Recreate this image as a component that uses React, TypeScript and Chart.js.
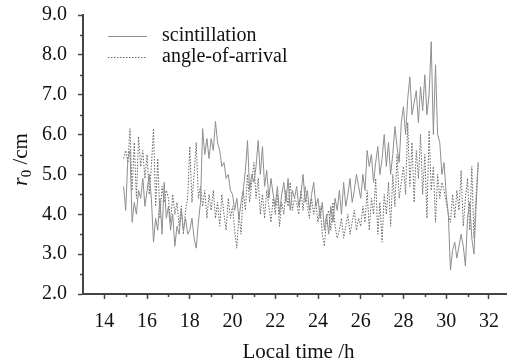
import React, { useEffect, useRef } from "react";
import { Chart, registerables } from "chart.js";

Chart.register(...registerables);

// ---- data ----
const startHour = 14.9;
const stepHour = 0.1;

const scintillation = [
  4.7,
  4.1, 5.4, 5.6, 3.8, 4.3, 4.0, 4.6, 4.4, 4.9, 4.2,
  4.6, 5.0, 4.4, 3.3, 3.9, 3.6, 4.4, 3.5, 4.8, 3.9,
  4.2, 3.6, 4.0, 3.2, 3.7, 3.5, 4.1, 3.6, 3.9, 3.5,
  3.6, 3.9, 3.4, 3.15, 3.8, 4.3, 6.15, 5.5, 5.9, 5.4,
  5.9, 5.6, 6.33, 5.8, 5.6, 5.2, 5.3, 4.9, 5.0, 4.6,
  4.5, 4.1, 4.4, 3.9, 4.3, 4.6, 5.1, 5.85, 4.6, 5.0,
  4.8, 5.2, 5.85, 5.0, 5.7, 4.7, 5.1, 4.4, 4.9, 4.5,
  4.2, 4.7, 4.0, 4.5, 4.8, 4.3, 4.9, 4.1, 4.6, 4.4,
  4.7, 4.2, 4.5, 5.0, 4.3, 4.6, 4.1, 4.5, 4.8, 4.2,
  4.4, 3.9, 4.3, 3.6, 4.0, 3.5, 4.2, 3.8, 4.4, 4.1,
  4.6, 4.0, 4.8, 4.2, 4.5, 4.9, 4.3, 4.6, 5.0, 4.7,
  4.4, 5.0, 4.6, 5.6, 5.2, 5.5, 4.8, 5.3, 5.7, 5.0,
  5.4, 6.0, 5.2, 5.8, 5.0, 5.5, 6.2, 5.7, 5.3, 6.3,
  6.7, 6.0, 6.9, 7.45, 6.5, 6.8, 7.1, 6.3, 7.2, 6.6,
  7.5, 6.5, 7.0, 8.33, 6.0, 7.75, 6.0, 5.8, 5.0, 5.3,
  4.5, 4.0, 2.6, 3.1, 3.3, 2.9, 3.2, 3.5, 3.2, 2.7,
  3.9, 4.3, 3.4, 3.0, 4.2, 5.3,
];

const angleOfArrival = [
  5.4,
  5.6, 5.3, 6.15, 4.6, 5.8, 4.4, 5.95, 5.2, 5.6, 4.9,
  5.5, 4.5, 5.2, 6.15, 4.2, 5.4, 3.9, 4.7, 4.3, 4.6,
  4.4, 3.8, 4.5, 4.0, 4.3, 3.7, 4.2, 3.5, 4.1, 4.4,
  5.7, 4.3, 5.0, 5.8, 4.4, 4.7, 4.2, 4.6, 3.9, 4.5,
  4.1, 4.6, 3.9, 4.3, 3.7, 4.5, 4.0, 3.6, 4.4, 3.9,
  4.2, 3.6, 3.15, 4.0, 3.5, 4.6, 4.1, 5.0, 4.3, 4.8,
  5.3, 4.4, 4.9, 4.0, 4.5, 3.9, 4.6, 4.2, 3.8, 4.4,
  4.0, 4.5, 3.7, 4.3, 4.0, 4.6, 4.2, 4.8, 4.1, 4.4,
  4.3, 4.0, 4.6, 4.1, 4.7, 4.2, 3.9, 4.4, 4.0, 4.3,
  3.8, 4.2, 3.5, 3.2, 3.9, 4.1, 3.6, 4.3, 3.7, 3.4,
  3.6, 3.9, 3.4, 3.7, 4.0, 3.5, 3.8, 4.1, 3.6, 3.9,
  3.7, 4.2, 3.8, 4.6, 3.6, 4.4, 4.0, 4.9, 3.5, 4.3,
  3.3, 4.5, 4.0, 4.8, 3.7, 5.0, 4.2, 5.5, 4.4, 4.8,
  5.2, 4.5, 6.3, 4.7, 5.8, 4.3, 5.6, 4.9, 6.0, 4.5,
  5.5, 3.9, 6.1, 4.6, 5.2, 3.8, 5.0, 4.4, 4.8, 4.6,
  4.3, 4.0, 3.8, 4.5, 3.9, 4.6, 4.1, 5.1, 3.7, 4.4,
  4.9, 3.6, 5.2, 3.4, 4.5, 5.3,
];

const seriesLabels = ["scintillation", "angle-of-arrival"];
const xMajorTicks = [14, 16, 18, 20, 22, 24, 26, 28, 30, 32];
const xMinorTicks = [15, 17, 19, 21, 23, 25, 27, 29, 31];
const yMajorTicks = [2, 3, 4, 5, 6, 7, 8, 9];
const yMinorTicks = [2.5, 3.5, 4.5, 5.5, 6.5, 7.5, 8.5];
const xTitle = "Local time /h";
const yTitleVar = "r";
const yTitleSub = "0";
const yTitleUnit = " /cm";

// ---- styles ----
const FONT = "'Liberation Serif', 'Times New Roman', serif";
const AXIS_COLOR = "#444";
const TEXT_COLOR = "#111";
const SOLID_COLOR = "#8e8e8e";
const DOT_COLOR = "#666666";

const toPoints = (vals: number[]) =>
  vals.map((v, i) => ({ x: +(startHour + i * stepHour).toFixed(2), y: v }));

const decorPlugin = {
  id: "decor",
  afterDraw(chart: any) {
    const { ctx, chartArea: ca, scales } = chart;
    const x = scales.x;
    const y = scales.y;
    ctx.save();
    // minor ticks
    ctx.strokeStyle = AXIS_COLOR;
    ctx.lineWidth = 1.5;
    xMinorTicks.forEach((v) => {
      const px = Math.round(x.getPixelForValue(v)) + 0.5;
      ctx.beginPath();
      ctx.moveTo(px, ca.bottom);
      ctx.lineTo(px, ca.bottom + 3);
      ctx.stroke();
    });
    yMinorTicks.forEach((v) => {
      const py = Math.round(y.getPixelForValue(v)) + 0.5;
      ctx.beginPath();
      ctx.moveTo(ca.left, py);
      ctx.lineTo(ca.left - 3, py);
      ctx.stroke();
    });

    // legend
    const ds = chart.data.datasets;
    const lx0 = ca.left + 25;
    const lx1 = ca.left + 64;
    const tx = ca.left + 79;
    const rows = [ca.top + 21, ca.top + 42];
    ctx.font = `20px ${FONT}`;
    ctx.textBaseline = "middle";
    ctx.textAlign = "left";
    ds.forEach((d: any, i: number) => {
      ctx.strokeStyle = d.borderColor;
      ctx.lineWidth = d.borderWidth;
      ctx.setLineDash(d.borderDash || []);
      ctx.beginPath();
      ctx.moveTo(lx0, rows[i] + 0.5);
      ctx.lineTo(lx1, rows[i] + 0.5);
      ctx.stroke();
      ctx.setLineDash([]);
      ctx.fillStyle = TEXT_COLOR;
      ctx.fillText(d.label, tx, rows[i]);
    });

    // x title
    ctx.font = `21px ${FONT}`;
    ctx.textAlign = "center";
    ctx.textBaseline = "middle";
    ctx.fillStyle = TEXT_COLOR;
    ctx.fillText(xTitle, (ca.left + ca.right) / 2 + 4, ca.bottom + 58);

    // y title (rotated, with subscript)
    ctx.save();
    ctx.translate(20, (ca.top + ca.bottom) / 2 + 5);
    ctx.rotate(-Math.PI / 2);
    const fMain = `italic 22px ${FONT}`;
    const fSub = `15px ${FONT}`;
    const fUnit = `21px ${FONT}`;
    ctx.font = fMain;
    const w1 = ctx.measureText(yTitleVar).width;
    ctx.font = fSub;
    const w2 = ctx.measureText(yTitleSub).width;
    ctx.font = fUnit;
    const w3 = ctx.measureText(yTitleUnit).width;
    let cx = -(w1 + w2 + w3) / 2;
    ctx.textAlign = "left";
    ctx.textBaseline = "alphabetic";
    ctx.font = fMain;
    ctx.fillText(yTitleVar, cx, 7);
    cx += w1;
    ctx.font = fSub;
    ctx.fillText(yTitleSub, cx, 11);
    cx += w2;
    ctx.font = fUnit;
    ctx.fillText(yTitleUnit, cx, 7);
    ctx.restore();

    ctx.restore();
  },
};

export default function App() {
  const ref = useRef<HTMLCanvasElement | null>(null);
  useEffect(() => {
    if (!ref.current) return;
    const chart = new Chart(ref.current, {
      type: "line",
      data: {
        datasets: [
          {
            label: seriesLabels[0],
            data: toPoints(scintillation),
            borderColor: SOLID_COLOR,
            borderWidth: 1,
            pointRadius: 0,
            tension: 0,
            fill: false,
          },
          {
            label: seriesLabels[1],
            data: toPoints(angleOfArrival),
            borderColor: DOT_COLOR,
            borderWidth: 1,
            borderDash: [1.5, 1.5],
            pointRadius: 0,
            tension: 0,
            fill: false,
          },
        ],
      },
      options: {
        animation: false,
        responsive: false,
        devicePixelRatio: 1,
        layout: { padding: { top: 15, right: 1, left: 0, bottom: 0 } },
        plugins: {
          legend: { display: false },
          tooltip: { enabled: false },
          title: { display: false },
        },
        scales: {
          x: {
            type: "linear",
            min: 13,
            max: 32.8,
            afterBuildTicks: (s: any) => {
              s.ticks = xMajorTicks.map((v) => ({ value: v }));
            },
            afterFit: (s: any) => {
              s.height = 69;
              s.paddingLeft = 0;
              s.paddingRight = 0;
            },
            ticks: {
              font: { family: FONT, size: 20 },
              color: TEXT_COLOR,
              padding: 11,
              maxRotation: 0,
              autoSkip: false,
              callback: (v: any) => String(v),
            },
            grid: {
              drawOnChartArea: false,
              drawTicks: true,
              tickLength: 5,
              tickColor: AXIS_COLOR,
              tickWidth: 1.5,
            },
            border: { color: AXIS_COLOR, width: 2 },
          },
          y: {
            type: "linear",
            min: 2,
            max: 9,
            afterBuildTicks: (s: any) => {
              s.ticks = yMajorTicks.map((v) => ({ value: v }));
            },
            afterFit: (s: any) => {
              s.width = 83;
              s.paddingTop = 0;
              s.paddingBottom = 0;
            },
            ticks: {
              font: { family: FONT, size: 20 },
              color: TEXT_COLOR,
              padding: 11,
              autoSkip: false,
              callback: (v: any) => Number(v).toFixed(1),
            },
            grid: {
              drawOnChartArea: false,
              drawTicks: true,
              tickLength: 5,
              tickColor: AXIS_COLOR,
              tickWidth: 1.5,
            },
            border: { color: AXIS_COLOR, width: 2 },
          },
        },
      },
      plugins: [decorPlugin],
    });
    return () => chart.destroy();
  }, []);
  return (
    <div style={{ position: "fixed", left: 0, top: 0, width: 507, height: 363, background: "#fff" }}>
      <canvas ref={ref} width={507} height={363} style={{ display: "block" }} />
    </div>
  );
}
